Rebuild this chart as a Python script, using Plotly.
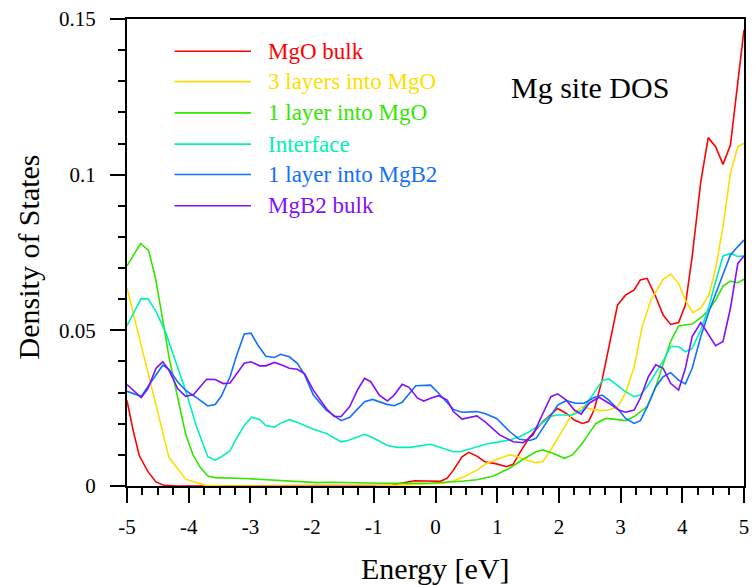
# Density of states projected on Mg sites, from bulk MgO through the interface into bulk MgB2.
import plotly.graph_objects as go

FONT = "Liberation Serif"

series_names = ["MgO bulk", "3 layers into MgO", "1 layer into MgO",
                "Interface", "1 layer into MgB2", "MgB2 bulk"]
series_colors = ["#ff0000", "#ffdd00", "#33e600", "#00f0b8", "#1070ff", "#8010ff"]

e_mgo_bulk = [-5.0, -4.90, -4.80, -4.66, -4.53, -4.40, -4.2, -3.0, -1.0, -0.7, -0.56, -0.34,
              -0.13, 0.08, 0.19, 0.29, 0.43, 0.54, 0.67, 0.80, 0.99, 1.15, 1.26, 1.36, 1.53,
              1.74, 1.98, 2.12, 2.25, 2.38, 2.48, 2.57, 2.70, 2.84, 2.95, 3.08, 3.22, 3.32,
              3.43, 3.57, 3.69, 3.81, 3.94, 4.05, 4.16, 4.30, 4.42, 4.54, 4.66, 4.78, 4.90, 5.0]
dos_mgo_bulk = [0.0275, 0.0178, 0.0097, 0.0046, 0.0013, 0.0002, 0.0, 0.0, 0.0, 0.0002, 0.0009,
                0.0017, 0.0016, 0.0015, 0.0025, 0.0051, 0.0094, 0.0108, 0.0096, 0.0078, 0.0071,
                0.0062, 0.0070, 0.0105, 0.0158, 0.0207, 0.0249, 0.0233, 0.0212, 0.0201, 0.0207,
                0.0244, 0.0340, 0.0480, 0.0581, 0.0613, 0.0630, 0.0662, 0.0667, 0.0608, 0.0549,
                0.0519, 0.0525, 0.0581, 0.0737, 0.0978, 0.1119, 0.1090, 0.1033, 0.1095, 0.1304,
                0.1465]

e_3_mgo = [-5.0, -4.90, -4.80, -4.58, -4.32, -4.05, -3.73, -3.4, -1.0, 0.13, 0.29, 0.46, 0.67,
           0.83, 0.99, 1.20, 1.34, 1.50, 1.63, 1.74, 1.90, 2.06, 2.22, 2.38, 2.52, 2.68, 2.81,
           2.95, 3.08, 3.22, 3.35, 3.49, 3.69, 3.81, 3.94, 4.05, 4.17, 4.30, 4.43, 4.54, 4.66,
           4.78, 4.90, 5.0]
dos_3_mgo = [0.0636, 0.0556, 0.0469, 0.0297, 0.0092, 0.0022, 0.0002, 0.0, 0.0, 0.0009, 0.0016,
             0.0030, 0.0051, 0.0073, 0.0085, 0.0100, 0.0094, 0.0082, 0.0075, 0.0078, 0.0126,
             0.0180, 0.0233, 0.0255, 0.0247, 0.0242, 0.0244, 0.0255, 0.0298, 0.0383, 0.0512,
             0.0597, 0.0664, 0.0681, 0.0651, 0.0597, 0.0557, 0.0571, 0.0613, 0.0699, 0.0833,
             0.1004, 0.1090, 0.1101]

e_1_mgo = [-5.0, -4.78, -4.65, -4.54, -4.43, -4.32, -4.18, -4.05, -3.93, -3.81, -3.69, -3.57,
           -3.09, -2.61, -1.92, -1.69, -0.88, -0.08, 0.24, 0.46, 0.67, 0.94, 1.20, 1.42, 1.63,
           1.74, 1.90, 2.09, 2.22, 2.38, 2.60, 2.76, 2.92, 3.08, 3.22, 3.43, 3.57, 3.69, 3.81,
           3.94, 4.16, 4.32, 4.43, 4.54, 4.66, 4.78, 4.90, 5.0]
dos_1_mgo = [0.0707, 0.0779, 0.0757, 0.0669, 0.0545, 0.0415, 0.0286, 0.0167, 0.0100, 0.0059,
             0.0032, 0.0027, 0.0024, 0.0018, 0.0011, 0.0012, 0.0009, 0.0009, 0.0012, 0.0016,
             0.0020, 0.0032, 0.0057, 0.0086, 0.0110, 0.0116, 0.0105, 0.0089, 0.0100, 0.0137,
             0.0201, 0.0217, 0.0214, 0.0210, 0.0223, 0.0255, 0.0319, 0.0389, 0.0464, 0.0514,
             0.0520, 0.0544, 0.0565, 0.0597, 0.0642, 0.0658, 0.0653, 0.0664]

e_interface = [-5.0, -4.77, -4.66, -4.53, -4.37, -4.24, -4.05, -3.87, -3.69, -3.57, -3.47, -3.33,
               -3.23, -3.09, -2.98, -2.85, -2.75, -2.61, -2.51, -2.37, -2.24, -2.01, -1.77,
               -1.53, -1.42, -1.15, -1.02, -0.78, -0.62, -0.41, -0.08, 0.08, 0.29, 0.40, 0.67,
               0.83, 0.99, 1.20, 1.36, 1.53, 1.69, 1.85, 1.98, 2.22, 2.38, 2.54, 2.71, 2.81,
               2.97, 3.08, 3.22, 3.32, 3.43, 3.57, 3.70, 3.81, 3.94, 4.05, 4.16, 4.30, 4.43,
               4.54, 4.66, 4.78, 4.90, 5.0]
dos_interface = [0.0515, 0.0602, 0.0601, 0.0561, 0.0491, 0.0415, 0.0307, 0.0189, 0.0094, 0.0083,
                 0.0094, 0.0113, 0.0151, 0.0197, 0.0221, 0.0214, 0.0194, 0.0189, 0.0202, 0.0213,
                 0.0205, 0.0185, 0.0169, 0.0142, 0.0146, 0.0166, 0.0156, 0.0130, 0.0124, 0.0124,
                 0.0134, 0.0124, 0.0110, 0.0110, 0.0126, 0.0135, 0.0140, 0.0148, 0.0158, 0.0175,
                 0.0196, 0.0223, 0.0228, 0.0228, 0.0244, 0.0292, 0.0340, 0.0344, 0.0321, 0.0303,
                 0.0287, 0.0292, 0.0319, 0.0362, 0.0405, 0.0448, 0.0448, 0.0431, 0.0442, 0.0501,
                 0.0576, 0.0656, 0.0739, 0.0747, 0.0737, 0.0739]

e_1_mgb2 = [-5.0, -4.77, -4.42, -4.32, -4.18, -4.05, -3.89, -3.69, -3.57, -3.47, -3.33, -3.23,
            -3.10, -2.99, -2.88, -2.75, -2.61, -2.51, -2.37, -2.24, -2.12, -1.98, -1.77, -1.53,
            -1.39, -1.15, -1.02, -0.80, -0.67, -0.54, -0.32, -0.19, -0.08, 0.05, 0.29, 0.43,
            0.67, 0.80, 0.99, 1.20, 1.36, 1.53, 1.63, 1.79, 1.98, 2.12, 2.27, 2.41, 2.57, 2.70,
            2.81, 2.97, 3.08, 3.22, 3.32, 3.43, 3.57, 3.69, 3.81, 3.94, 4.05, 4.16, 4.30, 4.43,
            4.54, 4.66, 4.78, 4.90, 5.0]
dos_1_mgb2 = [0.0304, 0.0288, 0.0388, 0.0375, 0.0335, 0.0307, 0.0286, 0.0257, 0.0262, 0.0289,
              0.0351, 0.0415, 0.0488, 0.0491, 0.0453, 0.0417, 0.0413, 0.0423, 0.0415, 0.0394,
              0.0357, 0.0292, 0.0244, 0.0210, 0.0221, 0.0271, 0.0278, 0.0263, 0.0258, 0.0269,
              0.0322, 0.0324, 0.0324, 0.0298, 0.0246, 0.0237, 0.0239, 0.0233, 0.0217, 0.0175,
              0.0150, 0.0146, 0.0153, 0.0201, 0.0260, 0.0274, 0.0266, 0.0266, 0.0284, 0.0292,
              0.0276, 0.0244, 0.0217, 0.0201, 0.0210, 0.0253, 0.0319, 0.0351, 0.0364, 0.0340,
              0.0328, 0.0378, 0.0480, 0.0560, 0.0619, 0.0683, 0.0742, 0.0769, 0.0790]

e_mgb2_bulk = [-5.0, -4.77, -4.66, -4.53, -4.42, -4.32, -4.18, -4.05, -3.92, -3.71, -3.57, -3.44,
               -3.33, -3.10, -2.99, -2.85, -2.75, -2.61, -2.48, -2.37, -2.24, -2.12, -1.98,
               -1.77, -1.64, -1.53, -1.39, -1.26, -1.15, -1.05, -0.91, -0.78, -0.67, -0.54,
               -0.43, -0.29, -0.19, -0.08, 0.05, 0.19, 0.29, 0.43, 0.67, 0.80, 1.04, 1.26, 1.42,
               1.58, 1.74, 1.87, 1.98, 2.12, 2.25, 2.36, 2.49, 2.65, 2.81, 2.97, 3.08, 3.22,
               3.32, 3.45, 3.57, 3.69, 3.81, 3.94, 4.05, 4.16, 4.30, 4.42, 4.54, 4.66, 4.78,
               4.90, 5.0]
dos_mgb2_bulk = [0.0326, 0.0284, 0.0313, 0.0378, 0.0399, 0.0372, 0.0313, 0.0288, 0.0294, 0.0343,
                 0.0342, 0.0329, 0.0331, 0.0394, 0.0399, 0.0386, 0.0386, 0.0397, 0.0388, 0.0378,
                 0.0375, 0.0360, 0.0308, 0.0249, 0.0223, 0.0223, 0.0255, 0.0310, 0.0346, 0.0335,
                 0.0292, 0.0273, 0.0292, 0.0327, 0.0317, 0.0282, 0.0273, 0.0282, 0.0290, 0.0276,
                 0.0239, 0.0215, 0.0225, 0.0207, 0.0164, 0.0142, 0.0139, 0.0164, 0.0233, 0.0287,
                 0.0296, 0.0276, 0.0244, 0.0231, 0.0266, 0.0285, 0.0266, 0.0244, 0.0237, 0.0244,
                 0.0282, 0.0351, 0.0389, 0.0378, 0.0330, 0.0308, 0.0378, 0.0480, 0.0525, 0.0490,
                 0.0451, 0.0464, 0.0571, 0.0715, 0.0739]

energies = [e_mgo_bulk, e_3_mgo, e_1_mgo, e_interface, e_1_mgb2, e_mgb2_bulk]
dos_values = [dos_mgo_bulk, dos_3_mgo, dos_1_mgo, dos_interface, dos_1_mgb2, dos_mgb2_bulk]

fig = go.Figure()
for name, color, ex, dy in zip(series_names, series_colors, energies, dos_values):
    fig.add_trace(go.Scatter(x=ex, y=dy, mode="lines", name=name, showlegend=False,
                             line=dict(color=color, width=1.6)))

# Legend drawn by hand: long line samples with coloured labels
legend_rows_y = [0.931, 0.866, 0.799, 0.732, 0.667, 0.600]
for name, color, ly in zip(series_names, series_colors, legend_rows_y):
    fig.add_shape(type="line", xref="paper", yref="paper", x0=0.077, x1=0.201,
                  y0=ly, y1=ly, line=dict(color=color, width=1.6))
    fig.add_annotation(text=name, xref="paper", yref="paper", x=0.2245, y=ly,
                       xanchor="left", yanchor="middle", showarrow=False,
                       font=dict(family=FONT, size=23, color=color))

fig.add_annotation(text="Mg site DOS", xref="paper", yref="paper", x=0.619, y=0.853,
                   xanchor="left", yanchor="middle", showarrow=False,
                   font=dict(family=FONT, size=30, color="black"))
fig.add_annotation(text="Energy [eV]", xref="paper", yref="paper", x=0.5, y=-0.176,
                   xanchor="center", yanchor="middle", showarrow=False,
                   font=dict(family=FONT, size=30, color="black"))
fig.add_annotation(text="Density of States", xref="paper", yref="paper", x=-0.160,
                   y=0.49, xanchor="center", yanchor="middle", textangle=-90,
                   showarrow=False, font=dict(family=FONT, size=30, color="black"))

fig.update_layout(
    width=754, height=585,
    font=dict(family=FONT, color="black"),
    margin=dict(l=127, r=5, t=19, b=99),
    paper_bgcolor="white", plot_bgcolor="white",
)
fig.update_xaxes(range=[-5, 5], tickmode="array",
                 tickvals=[-5, -4, -3, -2, -1, 0, 1, 2, 3, 4, 5],
                 ticktext=["-5", "-4", "-3", "-2", "-1", "0", "1", "2", "3", "4", "5"],
                 showgrid=False, zeroline=False, showline=True, linecolor="black",
                 linewidth=2, mirror=True, ticks="outside", tickcolor="black",
                 tickwidth=2, ticklen=15, ticklabelstandoff=6,
                 tickfont=dict(family=FONT, size=21, color="black"),
                 minor=dict(dtick=0.25, ticks="outside", ticklen=7, tickwidth=2,
                            tickcolor="black", showgrid=False))
fig.update_yaxes(range=[0, 0.15], tickmode="array", tickvals=[0, 0.05, 0.1, 0.15],
                 ticktext=["0", "0.05", "0.1", "0.15"],
                 showgrid=False, zeroline=False, showline=True, linecolor="black",
                 linewidth=2, mirror=True, ticks="outside", tickcolor="black",
                 tickwidth=2, ticklen=15, ticklabelstandoff=10,
                 tickfont=dict(family=FONT, size=21, color="black"),
                 minor=dict(dtick=0.01, ticks="outside", ticklen=7, tickwidth=2,
                            tickcolor="black", showgrid=False))

fig.write_html("out.html")
